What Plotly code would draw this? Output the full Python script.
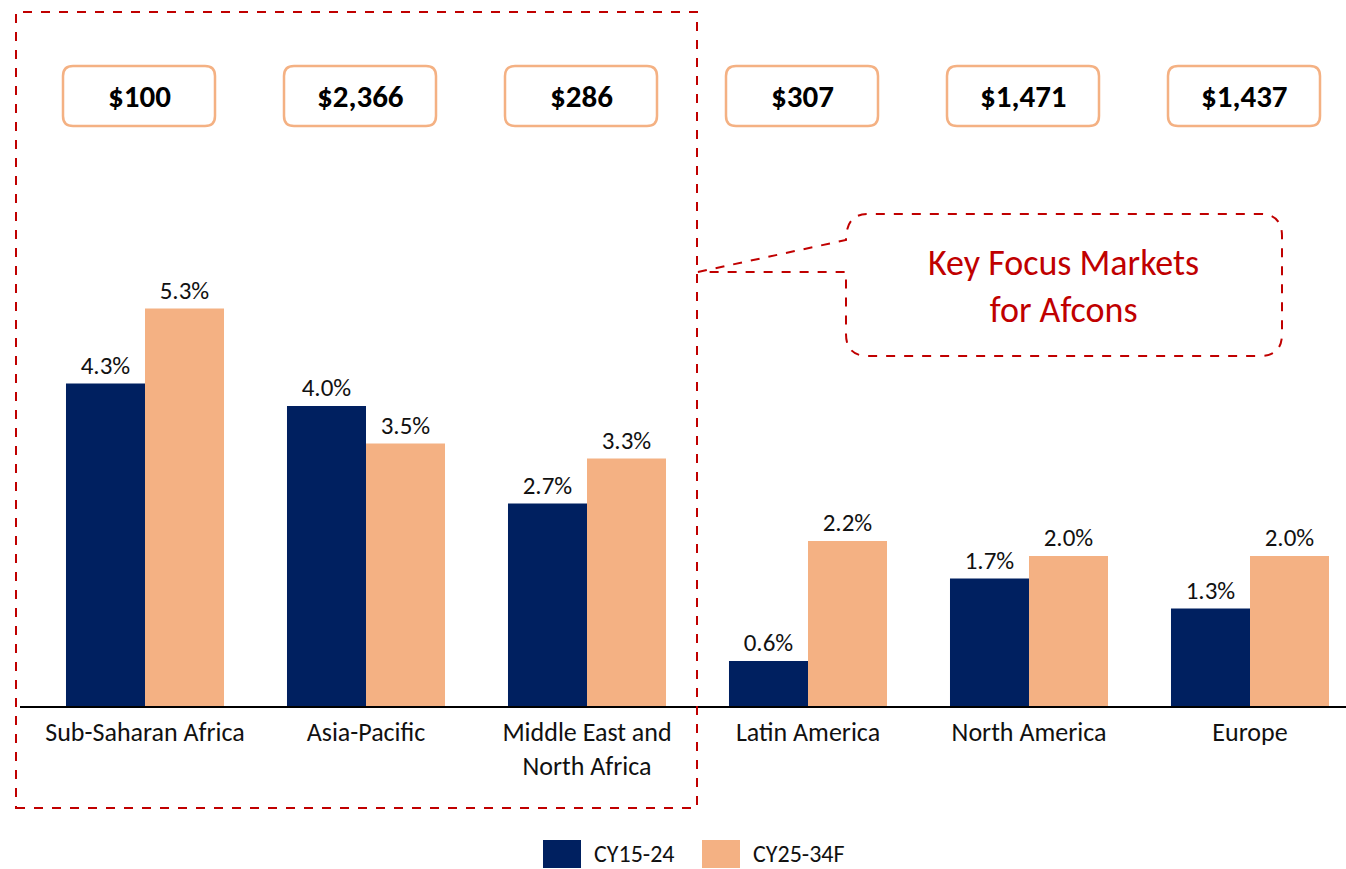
import plotly.graph_objects as go

# ---------------- data ----------------
categories = ["Sub-Saharan Africa", "Asia-Pacific", "Middle East and<br>North Africa",
              "Latin America", "North America", "Europe"]
series_names = ["CY15-24", "CY25-34F"]
cy15_24 = [4.3, 4.0, 2.7, 0.6, 1.7, 1.3]
cy25_34f = [5.3, 3.5, 3.3, 2.2, 2.0, 2.0]
market_size = ["$100", "$2,366", "$286", "$307", "$1,471", "$1,437"]
callout_text = "Key Focus Markets<br>for Afcons"

# ---------------- style ----------------
NAVY = "#002060"
PEACH = "#F4B183"
RED = "#C00000"
FONT = "Carlito, Calibri, Lato, sans-serif"

W, H = 1346, 869
L, R, T, B = 20, 0, 0, 163
pw, ph = W - L - R, H - T - B
PX_PER_UNIT = 75.0
CAT_STEP = 221.0
FIRST_CENTER = 145.0


def px(x):
    return (x - L) / pw


def py(y):
    return (H - B - y) / ph


def xr(pix):  # pixel length -> x data units
    return pix / CAT_STEP


def yr(pix):  # pixel length -> y data units
    return pix / PX_PER_UNIT


def rounded_path(x0, y0, x1, y1, rx, ry):
    return (f"M {x0+rx},{y0} L {x1-rx},{y0} Q {x1},{y0} {x1},{y0+ry} "
            f"L {x1},{y1-ry} Q {x1},{y1} {x1-rx},{y1} "
            f"L {x0+rx},{y1} Q {x0},{y1} {x0},{y1-ry} "
            f"L {x0},{y0+ry} Q {x0},{y0} {x0+rx},{y0} Z")


x_idx = list(range(len(categories)))

fig = go.Figure()
for name, vals, col in [(series_names[0], cy15_24, NAVY), (series_names[1], cy25_34f, PEACH)]:
    fig.add_bar(
        x=x_idx, y=vals, name=name, marker=dict(color=col, line=dict(width=0)),
        text=[f"{v:.1f}%" for v in vals], textposition="outside",
        textfont=dict(family=FONT, size=25, color="#111111"),
        cliponaxis=False, constraintext="none", showlegend=False,
    )

x_lo = (L - FIRST_CENTER) / CAT_STEP
x_hi = (W - R - FIRST_CENTER) / CAT_STEP

shapes = []
annotations = []

# market size boxes
for i, lab in enumerate(market_size):
    xc = i - xr(6)
    x0, x1 = xc - xr(76), xc + xr(76)
    y1 = yr(706 - 66)
    y0 = yr(706 - 126)
    shapes.append(dict(type="path", xref="x", yref="y",
                       path=rounded_path(x0, y0, x1, y1, xr(10), yr(10)),
                       line=dict(color=PEACH, width=2.5), fillcolor="white", layer="above"))
    annotations.append(dict(x=xc, y=(y0 + y1) / 2, xref="x", yref="y", text=f"<b>{lab}</b>",
                            xanchor="center", yanchor="middle",
                            showarrow=False, font=dict(family=FONT, size=31, color="black")))

# dashed rectangle around key markets
shapes.append(dict(type="rect", xref="paper", yref="paper",
                   x0=px(16), x1=px(697), y0=py(808), y1=py(12),
                   line=dict(color=RED, width=2, dash="dash"), layer="above"))

# callout
cx0, cx1, cy0, cy1 = 846, 1282, 214, 356
rr = 22


def P(x, y):
    return f"{px(x)},{py(y)}"


callout_path = (
    f"M {P(698, 272)} L {P(cx0, 240)} Q {P(cx0, cy0)} {P(cx0 + rr, cy0)} "
    f"L {P(cx1 - rr, cy0)} Q {P(cx1, cy0)} {P(cx1, cy0 + rr)} "
    f"L {P(cx1, cy1 - rr)} Q {P(cx1, cy1)} {P(cx1 - rr, cy1)} "
    f"L {P(cx0 + rr, cy1)} Q {P(cx0, cy1)} {P(cx0, cy1 - rr)} "
    f"L {P(cx0, 272)} Z"
)
shapes.append(dict(type="path", xref="paper", yref="paper", path=callout_path,
                   line=dict(color=RED, width=2, dash="dash"), layer="above"))
annotations.append(dict(x=px(1063), y=py(286), xref="paper", yref="paper", text=callout_text,
                        xanchor="center", yanchor="middle",
                        showarrow=False, font=dict(family=FONT, size=36, color=RED)))

# custom legend
legend_items = [(series_names[0], NAVY, 543, 581, 592), (series_names[1], PEACH, 702, 740, 751)]
for name, col, x0, x1, tx in legend_items:
    shapes.append(dict(type="rect", xref="paper", yref="paper",
                       x0=px(x0), x1=px(x1), y0=py(868), y1=py(840),
                       line=dict(width=0), fillcolor=col))
    annotations.append(dict(x=px(tx), y=py(853), xref="paper", yref="paper", text=name,
                            xanchor="left", yanchor="middle", showarrow=False,
                            font=dict(family=FONT, size=24, color="#111111")))

fig.update_layout(
    width=W, height=H,
    margin=dict(l=L, r=R, t=T, b=B, pad=0),
    paper_bgcolor="white", plot_bgcolor="white",
    barmode="group", bargap=0.285, bargroupgap=0,
    font=dict(family=FONT, size=26, color="#111111"),
    xaxis=dict(tickmode="array", tickvals=x_idx, ticktext=categories, range=[x_lo, x_hi],
               showline=True, linecolor="black", linewidth=2, ticks="", showgrid=False,
               zeroline=False, tickfont=dict(family=FONT, size=26, color="#111111"),
               ticklabelstandoff=2, fixedrange=True),
    yaxis=dict(range=[0, ph / PX_PER_UNIT], visible=False, fixedrange=True),
    shapes=shapes, annotations=annotations,
)

fig.write_html("out.html", config={"displayModeBar": False},
               post_script="document.body.style.margin='0';")
